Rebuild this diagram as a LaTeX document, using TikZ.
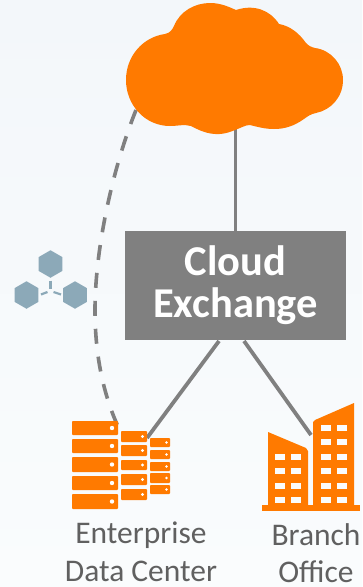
\documentclass[tikz,border=0pt]{standalone}
\usepackage{fontspec}
\setmainfont{Carlito}
\usetikzlibrary{positioning,calc,shapes.geometric}
\definecolor{cloudorange}{HTML}{FF7A00}
\definecolor{linegray}{HTML}{808080}
\definecolor{hexblue}{HTML}{8CA9B8}
\definecolor{labelgray}{HTML}{606060}
\definecolor{paletop}{HTML}{F3F7FA}
\definecolor{palebottom}{HTML}{FAFCFD}
\tikzset{
  link/.style={line width=3.8pt,color=linegray},
  dashlink/.style={line width=3.6pt,color=linegray,dash pattern=on 15pt off 13pt},
  hexnode/.style={regular polygon,regular polygon sides=6,shape border rotate=30,fill=hexblue,minimum size=27.5pt,inner sep=0pt},
  hexlink/.style={line width=2.2pt,color=hexblue},
  rack/.style={fill=cloudorange,rounded corners=0.8pt},
  iconlabel/.style={align=center,color=labelgray,font=\fontsize{31.5}{37.5}\selectfont},
}

\begin{document}
\begin{tikzpicture}[x=1pt,y=-1pt]

\shade[top color=paletop,bottom color=palebottom] (0,0) rectangle (362,587);
\useasboundingbox (0,0) rectangle (362,587);

\node [fill=linegray,minimum width=221pt,minimum height=109pt,inner sep=0pt] (exchange) at (235.5,285.5) {};
\node [align=center,color=white,font=\fontsize{42.5}{42}\bfseries\selectfont] (exchangetext) at (exchange) {Cloud\\Exchange};

\coordinate (cloud) at (235.5,110);
\coordinate (cloudleft) at (136,110);
\coordinate (exleft) at (219,341);
\coordinate (exright) at (244,341);
\coordinate (dctop) at (147,438);
\coordinate (dcback) at (121,433);
\coordinate (branchtop) at (311,435);

% links
\begin{scope}
\draw[link] (cloud) to (exchange);
\draw[link] (exleft) to (dctop);
\draw[link] (exright) to (branchtop);
\draw[dashlink] (cloudleft) .. controls (112,170) and (95,250) .. (95,310) .. controls (95,360) and (105,400) .. (dcback);
\end{scope}

% cloud
\fill[cloudorange] (165,34) .. controls (170,33) and (172,30) .. (174,26)
  .. controls (180,11) and (195,3) .. (210,3)
  .. controls (221,3) and (229,7) .. (236,10)
  .. controls (254,4) and (270,10) .. (279,24)
  .. controls (290,26) and (299,33) .. (306,43)
  .. controls (309,46) and (311,47) .. (315,48)
  .. controls (331,50) and (343,64) .. (343,80)
  .. controls (343,97) and (331,110) .. (316,113)
  .. controls (311,114) and (308,116) .. (304,119)
  .. controls (294,126) and (285,129) .. (274,129)
  .. controls (265,129) and (258,127) .. (250,125)
  .. controls (245,125) and (241,128) .. (235,130)
  .. controls (217,138) and (204,133) .. (191,126)
  .. controls (184,124) and (178,126) .. (170,126)
  .. controls (145,126) and (126,105) .. (126,80)
  .. controls (126,56) and (143,37) .. (165,34) -- cycle;

% hexagons
\node [hexnode] (hextop) at (50.5,264) {};
\node [hexnode] (hexleft) at (26.5,295) {};
\node [hexnode] (hexright) at (75,295) {};
\coordinate (hexmid) at (50.5,290);
\draw[hexlink] (hextop) ++(0,16.5) to ($(hexmid)+(0,-1)$);
\draw[hexlink] ($(hexleft)+(14.5,-0.5)$) to ($(hexmid)+(-3,2)$);
\draw[hexlink] ($(hexright)+(-14,-0.5)$) to ($(hexmid)+(3,2)$);

% data center
\foreach \ytop/\ybot in {421/435,439/453,457/472,476/490,494/509} {
  \fill[rack] (72,\ytop) rectangle (118,\ybot);
  \fill[white] (112,{(\ytop+\ybot)/2}) circle (2.2pt);
}
\foreach \ytop/\ybot in {431/442,445/456,460/470,474/485,489/500} {
  \fill[rack] (121,\ytop) rectangle (147,\ybot);
  \fill[white] (142.5,{(\ytop+\ybot)/2}) circle (1.7pt);
}
\foreach \ytop/\ybot in {438/447,450/459,462/471,473/483,485/494} {
  \fill[rack] (150,\ytop) rectangle (170,\ybot);
  \fill[white] (166.5,{(\ytop+\ybot)/2}) circle (1.4pt);
}

% branch office
\fill[cloudorange] (262,505) rectangle (360,511);
\fill[cloudorange] (268,432) -- (306,448) -- (308,451) -- (308,506) -- (268,506) -- cycle;
\fill[cloudorange] (313,422) -- (315,420) -- (354,403) -- (354,506) -- (313,506) -- cycle;
\foreach \xpos in {275,291} {
  \foreach \ypos in {454,468,483,497} {
    \fill[palebottom] (\xpos,\ypos) rectangle ++(10,6);
  }
}
\foreach \xpos in {321,337} {
  \foreach \ypos in {425,439,454,468,483,497} {
    \fill[palebottom] (\xpos,\ypos) rectangle ++(10,6);
  }
}

\node [iconlabel] (dclabel) at (141,552) {Enterprise\\Data Center};
\node [iconlabel] (branchlabel) at (316,553) {Branch\\Office};

\end{tikzpicture}
\end{document}
